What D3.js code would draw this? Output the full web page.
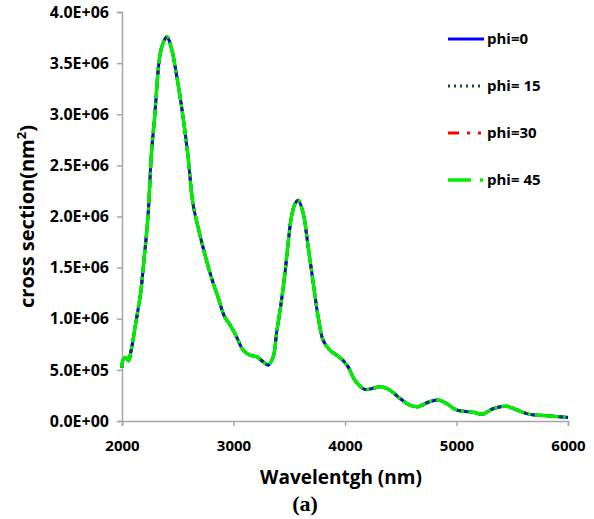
<!DOCTYPE html>
<html>
<head>
<meta charset="utf-8">
<script src="https://cdn.jsdelivr.net/npm/d3@7"></script>
<style>
  html, body { margin: 0; padding: 0; background: #fff; }
  svg text { font-family: "Open Sans", Lato, sans-serif; font-weight: 700; fill: #000; }
</style>
</head>
<body>
<div id="chart"></div>
<script>
// cross section vs wavelength, four polarisation angles (curves coincide)
const wavelength = [2000, 2010, 2035, 2060, 2080, 2100, 2130, 2167, 2197, 2233, 2263, 2293, 2338, 2370, 2403,
    2440, 2502, 2547, 2591, 2636, 2681, 2741, 2800, 2860, 2920, 2975, 3027, 3087, 3147, 3207, 3266, 3311,
    3356, 3386, 3431, 3461, 3490, 3520, 3550, 3580, 3625, 3670, 3715, 3759, 3804, 3864, 3924, 3975, 4028,
    4088, 4177, 4252, 4327, 4401, 4491, 4581, 4655, 4745, 4834, 4909, 4999, 5148, 5237, 5327, 5447, 5537,
    5656, 5806, 6000];
const crossSection = [0.52, 0.60, 0.62, 0.59, 0.68, 0.80, 1.0, 1.25, 1.575, 2.0, 2.6, 2.976, 3.56, 3.70, 3.758,
    3.66, 3.30, 2.976, 2.6, 2.13, 1.90, 1.64, 1.41, 1.216, 1.02, 0.93, 0.824, 0.694, 0.645, 0.629, 0.58, 0.548,
    0.629, 0.858, 1.183, 1.44, 1.74, 2.0, 2.12, 2.16, 2.03, 1.70, 1.35, 1.02, 0.79, 0.694, 0.645, 0.60, 0.53,
    0.40, 0.31, 0.32, 0.335, 0.303, 0.222, 0.156, 0.14, 0.183, 0.205, 0.173, 0.108, 0.085, 0.068, 0.12, 0.145, 0.11,
    0.065, 0.052, 0.035].map(v => v * 1e6);

const seriesNames = ['phi=0', 'phi= 15', 'phi=30', 'phi= 45'];
const seriesValues = [crossSection, crossSection, crossSection, crossSection];
const xTicks = [2000, 3000, 4000, 5000, 6000];
const yTicks = [0, 5e5, 1e6, 1.5e6, 2e6, 2.5e6, 3e6, 3.5e6, 4e6];

const styles = [
    { color: '#0000ff', dash: null, width: 3, legendDash: null },
    { color: '#1a4a1a', dash: '2,3', width: 3, legendDash: '2,4' },
    { color: '#ff0000', dash: '9,4,2,4', width: 3, legendDash: '11,8,3,8,3,8' },
    { color: '#00ee00', dash: '24,4,3,4', width: 3.5, legendDash: '23,9,3,9' }
];
// drawing order: red sits under the others, green on top
const drawOrder = [2, 0, 1, 3];

const W = 594, H = 519;
const m = { left: 122, right: 26, top: 12, bottom: 98 };

const x = d3.scaleLinear().domain([2000, 6000]).range([m.left, W - m.right]);
const y = d3.scaleLinear().domain([0, 4e6]).range([H - m.bottom, m.top]);

const svg = d3.select('#chart').append('svg')
    .attr('width', W).attr('height', H);

const fmt = v => {
    if (v === 0) return '0.0E+00';
    const e = Math.floor(Math.log10(v));
    return (v / Math.pow(10, e)).toFixed(1) + 'E+' + String(e).padStart(2, '0');
};

// y axis
const ya = svg.append('g')
    .attr('transform', `translate(${m.left},0)`)
    .call(d3.axisLeft(y).tickValues(yTicks).tickFormat(fmt).tickSize(5).tickPadding(8));
ya.select('.domain').attr('stroke', '#a6a6a6').attr('stroke-width', 1.5);
ya.selectAll('.tick line').attr('stroke', '#a6a6a6').attr('stroke-width', 1.5);
ya.selectAll('.tick text').style('font-size', '16px').style('font-family', '"Open Sans", sans-serif').style('font-weight', 700);

// x axis
const xa = svg.append('g')
    .attr('transform', `translate(0,${H - m.bottom})`)
    .call(d3.axisBottom(x).tickValues(xTicks).tickFormat(d3.format('d')).tickSize(5).tickPadding(14));
xa.select('.domain').attr('stroke', '#a6a6a6').attr('stroke-width', 1.5);
xa.selectAll('.tick line').attr('stroke', '#a6a6a6').attr('stroke-width', 1.5);
xa.selectAll('.tick text').style('font-size', '15px').style('font-family', '"Open Sans", sans-serif').style('font-weight', 700);

// axis titles
svg.append('text')
    .attr('transform', `translate(34,${(m.top + H - m.bottom) / 2}) rotate(-90)`)
    .attr('text-anchor', 'middle')
    .style('font-size', '20px')
    .html('cross section(nm<tspan dy="-8" font-size="13">2</tspan><tspan dy="8">)</tspan>');

svg.append('text')
    .attr('x', 341).attr('y', 484)
    .attr('text-anchor', 'middle')
    .style('font-size', '19px')
    .text('Wavelentgh (nm)');

svg.append('text')
    .attr('x', 305).attr('y', 511)
    .attr('text-anchor', 'middle')
    .style('font-family', '"Liberation Serif", serif')
    .style('font-size', '22px')
    .text('(a)');

// curves
const line = d3.line()
    .x((d, i) => x(wavelength[i]))
    .y(d => y(d))
    .curve(d3.curveCatmullRom.alpha(0.5));

drawOrder.forEach(k => {
    const s = styles[k];
    svg.append('path')
        .datum(seriesValues[k])
        .attr('d', line)
        .attr('fill', 'none')
        .attr('stroke', s.color)
        .attr('stroke-width', s.width)
        .attr('stroke-dasharray', s.dash)
        .attr('stroke-linejoin', 'round');
});

// legend
const leg = svg.append('g');
seriesNames.forEach((name, k) => {
    const s = styles[k];
    const ly = 39 + k * 47;
    leg.append('line')
        .attr('x1', 448).attr('x2', 484).attr('y1', ly).attr('y2', ly)
        .attr('stroke', s.color)
        .attr('stroke-width', s.width)
        .attr('stroke-dasharray', s.legendDash);
    leg.append('text')
        .attr('x', 487).attr('y', ly)
        .attr('dy', '0.35em')
        .style('font-size', '15px')
        .text(name);
});
</script>
</body>
</html>
